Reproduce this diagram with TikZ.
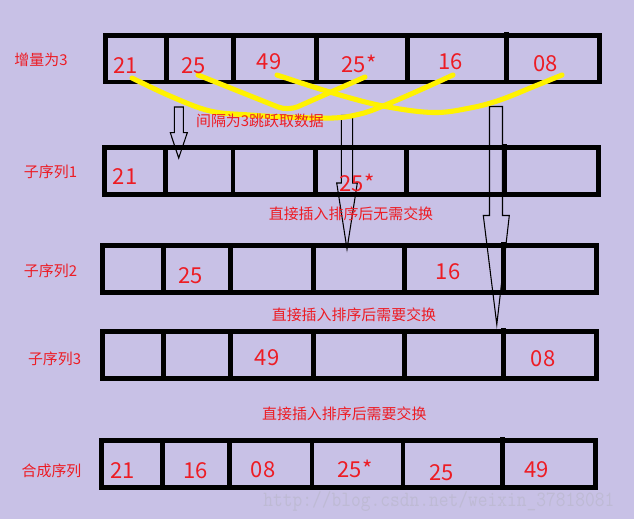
\documentclass[tikz,border=0pt]{standalone}
\usepackage{fontspec}
\newfontfamily\cjk{Noto Sans CJK SC}
\definecolor{bg}{RGB}{200,193,230}
\definecolor{txtred}{RGB}{237,28,36}
\definecolor{hopyellow}{RGB}{255,242,0}
\definecolor{wm}{RGB}{190,186,212}
\tikzset{
  cellline/.style={draw=black, line width=3.6pt},
  num/.style={font=\cjk\fontsize{16.5}{18}\selectfont, text=txtred, inner sep=0pt, text height=12.1pt, text depth=0pt, anchor=center},
  lbl/.style={font=\cjk\fontsize{11.2}{13}\selectfont, text=txtred, inner sep=0pt},
  hollow/.style={draw=black, line width=0.8pt, line join=miter},
  hop/.style={draw=hopyellow, line width=3.8pt, line cap=round, line join=round},
}
\begin{document}
\begin{tikzpicture}[x=0.75pt,y=-0.75pt]
\fill[bg] (0,0) rectangle (634,519);
\useasboundingbox (0,0) rectangle (634,519);

% watermark
\node[font=\ttfamily\fontsize{14.2}{16}\selectfont, text=wm, anchor=base west, inner sep=0pt, yscale=1.15] (wmark) at (263,506) {http://blog.csdn.net/weixin\_37818081};

% hollow arrows
\draw[hollow] (174.3,107) -- (183.3,107) -- (183.3,132.7) -- (187.3,132.7) -- (178.7,158) -- (170.3,132.7) -- (174.3,132.7) -- cycle;
\draw[hollow] (341.3,115.3) -- (352.7,115.3) -- (352.7,183) -- (357.3,183) -- (347,249) -- (336.7,183) -- (341.3,183) -- cycle;
\draw[hollow] (489.5,106.5) -- (502.5,106.5) -- (502.5,215.5) -- (509.3,215.5) -- (496.8,324.5) -- (483.3,215.5) -- (489.5,215.5) -- cycle;

% row 1
\draw[cellline] (105.5,35.8) rectangle (599.5,82);
\foreach \d in {166.5,233.5,316.5,407.5} \draw[cellline] (\d,35.8) -- (\d,82);
\draw[cellline] (506.5,32) -- (506.5,82);
% row 2
\draw[cellline] (104.5,147.6) rectangle (598.7,194.7);
\foreach \d in {165.5,233,315.5,406.5} \draw[cellline] (\d,147.6) -- (\d,194.7);
\draw[cellline] (505,144) -- (505,194.7);
% row 3
\draw[cellline] (102.5,245.7) rectangle (596.5,292.6);
\foreach \d in {163.5,230.5,313.4,404.4} \draw[cellline] (\d,245.7) -- (\d,292.6);
\draw[cellline] (503.3,242) -- (503.3,292.6);
% row 4
\draw[cellline] (102.5,331.5) rectangle (596.5,378.4);
\foreach \d in {163.5,230.5,313.4,404.4} \draw[cellline] (\d,331.5) -- (\d,378.4);
\draw[cellline] (503.3,328) -- (503.3,378.4);
% row 5
\draw[cellline] (101.5,440.6) rectangle (595.5,487.4);
\foreach \d in {162.5,229.5,312,403} \draw[cellline] (\d,440.6) -- (\d,487.4);
\draw[cellline] (502.3,437) -- (502.3,487.4);

% yellow hops
\draw[hop] plot[smooth, tension=0.6] coordinates {(132,78) (170,96) (210,111) (250,115) (287,117) (333,118) (360,114) (383,106) (420,90) (453,75)};
\draw[hop, rounded corners=8pt] (198,75) -- (288,111) -- (365,77);
\draw[hop] plot[smooth, tension=0.6] coordinates {(277,75) (333,93) (383,106) (433,112.5) (470,108) (500,100) (535,86) (562,75)};

% left labels
\node[lbl] (l1) at (41,60) {增量为3};
\node[lbl] (l2) at (50.5,172) {子序列1};
\node[lbl] (l3) at (50.5,271) {子序列2};
\node[lbl] (l4) at (54.6,359) {子序列3};
\node[lbl] (l5) at (51.5,471) {合成序列};

% middle labels
\node[lbl] (m1) at (260,120.5) {间隔为3跳跃取数据};
\node[lbl] (m2) at (351,214) {直接插入排序后无需交换};
\node[lbl] (m3) at (354,315) {直接插入排序后需要交换};
\node[lbl] (m4) at (344.3,414) {直接插入排序后需要交换};

% numbers row 1
\node[num] (a1) at (125.7,65) {21};
\node[num] (a2) at (193.5,65) {25};
\node[num] (a3) at (269,61) {49};
\node[num] (a4) at (359,64) {25*};
\node[num] (a5) at (450.3,61.7) {16};
\node[num] (a6) at (545.5,63) {08};
% row 2
\node[num] (b1) at (125,176.5) {21};
\node[num] (b4) at (357,183.3) {25*};
% row 3
\node[num] (c2) at (190.7,275) {25};
\node[num] (c5) at (448,271.5) {16};
% row 4
\node[num] (d3) at (267,357.5) {49};
\node[num] (d6) at (543,358) {08};
% row 5
\node[num] (e1) at (122.5,470) {21};
\node[num] (e2) at (195.5,470) {16};
\node[num] (e3) at (263,469.7) {08};
\node[num] (e4) at (355,469.5) {25*};
\node[num] (e5) at (441.8,472) {25};
\node[num] (e6) at (536.7,469) {49};
\end{tikzpicture}
\end{document}
